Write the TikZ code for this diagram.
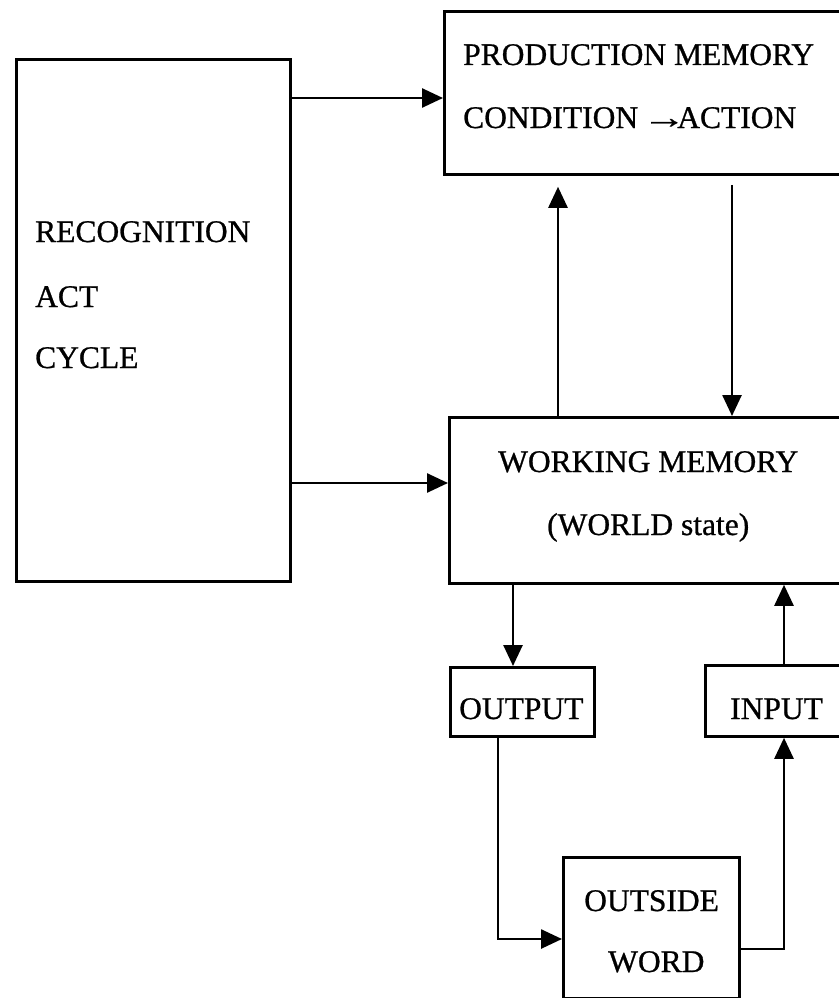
\documentclass[tikz,border=0pt]{standalone}
\usepackage{fontspec}
\setmainfont{Liberation Serif}[FakeBold=0.8]
\usetikzlibrary{arrows.meta}

\begin{document}
\begin{tikzpicture}[x=1pt, y=-1pt,
    box/.style={draw, line width=2.8pt, rectangle, inner sep=0pt, anchor=north west},
    lbl/.style={anchor=base west, inner sep=0pt, font=\fontsize{31.5}{38}\selectfont},
    arr/.style={line width=2.6pt, -{Triangle[length=21pt, width=19pt]}}]

  % page frame
  \useasboundingbox (0,0) rectangle (838,998);

  % boxes (north-west corner, size)
  \node[box, minimum width=274pt, minimum height=522pt] (recog) at (15,58) {};
  \node[box, minimum width=405pt, minimum height=163pt] (prod)  at (443,10) {};
  \node[box, minimum width=400pt, minimum height=166pt] (wm)    at (448,416) {};
  \node[box, minimum width=144pt, minimum height=69pt]  (out)   at (449,666) {};
  \node[box, minimum width=144pt, minimum height=71pt]  (in)    at (704,664) {};
  \node[box, minimum width=176pt, minimum height=141pt] (world) at (562,856) {};

  % texts
  \node[lbl] (t1)  at (463,65)  {PRODUCTION MEMORY};
  \node[lbl] (t2)  at (463,128) {CONDITION\kern4pt\scalebox{1.4}[1]{→}\kern-9ptACTION};
  \node[lbl] (t3)  at (35,242)  {RECOGNITION};
  \node[lbl] (t4)  at (35,307)  {ACT};
  \node[lbl] (t5)  at (35,368)  {CYCLE};
  \node[lbl] (t6)  at (498,472) {WORKING MEMORY};
  \node[lbl] (t7)  at (547,535) {(WORLD state)};
  \node[lbl] (t8)  at (459,719) {OUTPUT};
  \node[lbl] (t9)  at (730,719) {INPUT};
  \node[lbl] (t10) at (584,911) {OUTSIDE};
  \node[lbl] (t11) at (608,972) {WORD};

  % reference lines for connector positions
  \coordinate (ya) at (0,98);
  \coordinate (yb) at (0,483);
  \coordinate (xa) at (558,0);
  \coordinate (xb) at (732,0);
  \coordinate (xc) at (513,0);
  \coordinate (xd) at (784,0);
  \coordinate (xe) at (498,0);
  \coordinate (yc) at (0,939);
  \coordinate (yd) at (0,949);

  % connectors
  \draw[arr] (recog.east |- ya) -- (prod.west |- ya);
  \draw[arr] (recog.east |- yb) -- (wm.west |- yb);
  \draw[arr, shorten >=11pt] (wm.north -| xa) -- (prod.south -| xa);
  \draw[arr, shorten <=9pt] (prod.south -| xb) -- (wm.north -| xb);
  \draw[arr] (wm.south -| xc) -- (out.north -| xc);
  \draw[arr] (in.north -| xd) -- (wm.south -| xd);
  \draw[arr] (out.south -| xe) |- (world.west |- yc);
  \draw[arr] (world.east |- yd) -| (in.south -| xd);
\end{tikzpicture}
\end{document}
